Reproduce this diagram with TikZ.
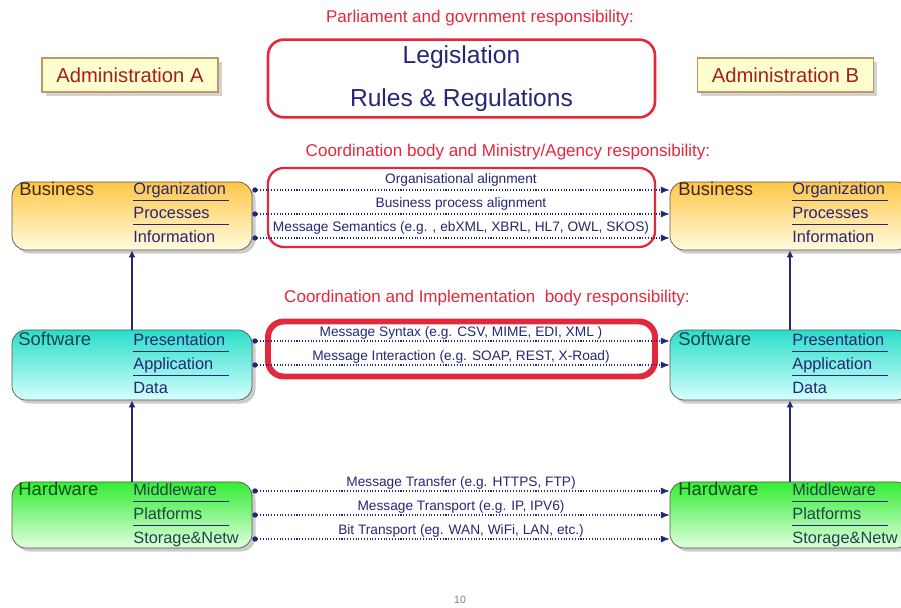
\documentclass[tikz,border=0pt]{standalone}
\usepackage{fontspec}
\setmainfont{Liberation Sans}
\usetikzlibrary{arrows.meta,shadows}

\definecolor{respred}{RGB}{228,40,60}
\definecolor{navy}{RGB}{38,38,118}
\definecolor{admred}{RGB}{165,30,30}
\definecolor{admfill}{RGB}{255,255,206}
\definecolor{admline}{RGB}{196,150,100}
\definecolor{bizdark}{RGB}{255,198,72}
\definecolor{bizlight}{RGB}{255,252,224}
\definecolor{swdark}{RGB}{42,222,200}
\definecolor{swlight}{RGB}{214,255,255}
\definecolor{hwdark}{RGB}{52,236,52}
\definecolor{hwlight}{RGB}{224,255,224}
\definecolor{boxline}{RGB}{90,90,72}
\definecolor{bizhead}{RGB}{60,40,20}
\definecolor{swhead}{RGB}{16,72,80}
\definecolor{hwhead}{RGB}{10,80,20}
\definecolor{hwitem}{RGB}{30,70,70}

\begin{document}
\begin{tikzpicture}[
        >=Latex,
        font=\fontsize{9}{10}\selectfont,
        resp/.style={text=respred, font=\fontsize{9.7}{11}\selectfont},
        admin/.style={draw=admline, fill=admfill, thick, text=admred, minimum width=3.52cm, minimum height=0.68cm,
            font=\fontsize{11.5}{13}\selectfont, drop shadow={opacity=0.35, shadow xshift=2pt, shadow yshift=-2pt}},
        frame/.style={draw=respred, rounded corners=9pt, fill=white, minimum width=7.74cm, line width=1.3pt},
        layer/.style={draw=boxline, rounded corners=8pt, minimum width=4.8cm,
            drop shadow={opacity=0.4, shadow xshift=2pt, shadow yshift=-2pt}},
        biz/.style={layer, top color=bizdark, bottom color=bizlight, minimum height=1.36cm},
        soft/.style={layer, top color=swdark, bottom color=swlight, minimum height=1.4cm},
        hard/.style={layer, top color=hwdark, bottom color=hwlight, minimum height=1.32cm},
        head/.style={anchor=west, inner sep=0pt, font=\fontsize{10.5}{12}\selectfont},
        item/.style={anchor=west, inner sep=0pt, text width=1.9cm, text height=1.6ex, text depth=0.55ex, text=navy,
            font=\fontsize{9.3}{10}\selectfont},
        uitem/.style={item, append after command={(\tikzlastnode.south west) edge[draw=navy, semithick] (\tikzlastnode.south east)}},
        link/.style={draw=navy, densely dotted, semithick, {Circle[length=3pt]}-{Latex[length=5pt,width=4pt]}},
        lbl/.style={text=navy, inner sep=1.5pt, font=\fontsize{7.8}{8.5}\selectfont},
        up/.style={draw=navy, line width=0.9pt, -{Latex[length=4pt,width=4pt]}}
    ]
    \useasboundingbox (0,0) rectangle (18.02,12.16);

    % government level
    \node[resp] (resp1) at (9.6,11.8) {Parliament and govrnment responsibility:};
    \node[frame, line width=1.5pt, minimum height=1.54cm, text=navy, align=center, font=\fontsize{14}{24.5}\selectfont]
        (legis) at (9.23,10.59) {Legislation\\Rules \& Regulations};
    \node[admin] (admA) at (2.6,10.66) {Administration A};
    \node[admin] (admB) at (15.71,10.66) {Administration B};

    % responsibility frames
    \node[resp] (resp2) at (10.16,9.12) {Coordination body and Ministry/Agency responsibility:};
    \node[frame, minimum height=1.58cm] (coord) at (9.23,8.01) {};
    \node[resp] (resp3) at (9.74,6.2) {Coordination and Implementation\ \ body responsibility:};
    \node[frame, line width=3.4pt, minimum height=1.1cm] (synt) at (9.23,5.18) {};

    % layer boxes
    \node[biz] (bizL) at (2.64,7.84) {};
    \node[biz] (bizR) at (15.8,7.84) {};
    \node[soft] (swL) at (2.64,4.86) {};
    \node[soft] (swR) at (15.8,4.86) {};
    \node[hard] (hwL) at (2.64,1.86) {};
    \node[hard] (hwR) at (15.8,1.86) {};

    % administration A
    \node[head, text=bizhead] (bizhA) at (0.38,8.38) {Business};
    \node[uitem] (orgA) at (2.66,8.36) {Organization};
    \node[uitem] (procA) at (2.66,7.88) {Processes};
    \node[item] (infoA) at (2.66,7.4) {Information};
    \node[head, text=swhead] (swhA) at (0.36,5.38) {Software};
    \node[uitem] (presA) at (2.66,5.34) {Presentation};
    \node[uitem] (applA) at (2.66,4.86) {Application};
    \node[item] (dataA) at (2.66,4.38) {Data};
    \node[head, text=hwhead] (hwhA) at (0.36,2.38) {Hardware};
    \node[uitem, text=hwitem] (midA) at (2.66,2.34) {Middleware};
    \node[uitem, text=hwitem] (platA) at (2.66,1.86) {Platforms};
    \node[item, text=hwitem] (storA) at (2.66,1.38) {Storage\&Netw};

    % administration B
    \node[head, text=bizhead] (bizhB) at (13.56,8.38) {Business};
    \node[uitem] (orgB) at (15.84,8.36) {Organization};
    \node[uitem] (procB) at (15.84,7.88) {Processes};
    \node[item] (infoB) at (15.84,7.4) {Information};
    \node[head, text=swhead] (swhB) at (13.56,5.38) {Software};
    \node[uitem] (presB) at (15.84,5.34) {Presentation};
    \node[uitem] (applB) at (15.84,4.86) {Application};
    \node[item] (dataB) at (15.84,4.38) {Data};
    \node[head, text=hwhead] (hwhB) at (13.56,2.38) {Hardware};
    \node[uitem, text=hwitem] (midB) at (15.84,2.34) {Middleware};
    \node[uitem, text=hwitem] (platB) at (15.84,1.86) {Platforms};
    \node[item, text=hwitem] (storB) at (15.84,1.38) {Storage\&Netw};

    % layers stacked
    \draw[up] (hwL.north) -- (swL.south);
    \draw[up] (swL.north) -- (bizL.south);
    \draw[up] (hwR.north) -- (swR.south);
    \draw[up] (swR.north) -- (bizR.south);

    % interoperability links
    \draw[link] (bizL.east |- orgA) -- node[lbl, above] (l1) {Organisational alignment} (bizR.west |- orgA);
    \draw[link] (bizL.east |- procA) -- node[lbl, above] (l2) {Business process alignment} (bizR.west |- procA);
    \draw[link] (bizL.east |- infoA) -- node[lbl, above] (l3) {Message Semantics (e.g. , ebXML, XBRL, HL7, OWL, SKOS)} (bizR.west |- infoA);
    \draw[link] (swL.east |- presA) -- node[lbl, above, inner sep=0.6pt] (l4) {Message Syntax (e.g. CSV, MIME, EDI, XML )} (swR.west |- presA);
    \draw[link] (swL.east |- applA) -- node[lbl, above, inner sep=0.6pt] (l5) {Message Interaction (e.g. SOAP, REST, X-Road)} (swR.west |- applA);
    \draw[link] (hwL.east |- midA) -- node[lbl, above, inner sep=0.5pt] (l6) {Message Transfer (e.g. HTTPS, FTP)} (hwR.west |- midA);
    \draw[link] (hwL.east |- platA) -- node[lbl, above, inner sep=0.5pt] (l7) {Message Transport (e.g. IP, IPV6)} (hwR.west |- platA);
    \draw[link] (hwL.east |- storA) -- node[lbl, above, inner sep=0.5pt] (l8) {Bit Transport (eg. WAN, WiFi, LAN, etc.)} (hwR.west |- storA);

    \node[text=gray, font=\fontsize{6}{7}\selectfont] (page) at (9.2,0.16) {10};
\end{tikzpicture}
\end{document}
